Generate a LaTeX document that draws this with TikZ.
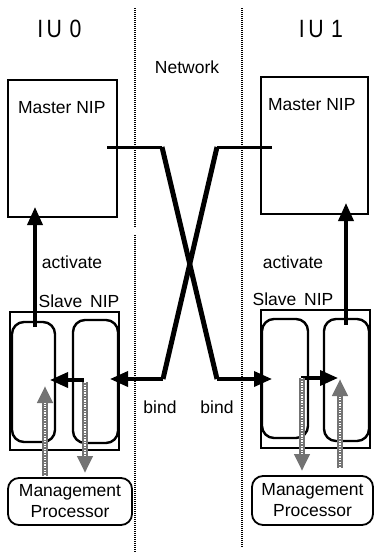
\documentclass[tikz,border=0pt]{standalone}
\usepackage{fontspec}
\setmainfont{Liberation Sans}
\usetikzlibrary{arrows.meta}
\begin{document}
\begin{tikzpicture}[x=1pt,y=-1pt,
  every node/.style={inner sep=0pt,outer sep=0pt},
  txt/.style={font=\fontsize{17.5}{21}\selectfont},
  bigtxt/.style={font=\fontsize{25}{28}\selectfont},
  plainbox/.style={draw,line width=2pt},
  innerbox/.style={draw,line width=2.4pt,rounded corners=12pt},
  mpbox/.style={draw,line width=1.8pt,rounded corners=11pt,align=center,font=\fontsize{17.5}{21}\selectfont},
  sep/.style={line width=1.8pt,dash pattern=on 1pt off 1pt},
  blk/.style={line width=3.6pt,-{Triangle[width=15pt,length=18pt]}},
  thin/.style={line width=3pt},
  thick/.style={line width=5pt,line join=round},
  grayarr/.style={line width=6.5pt,draw=black!55,-{Triangle[width=15pt,length=17pt]},
     postaction={draw=white,line width=1.4pt,dash pattern=on 1.3pt off 1.3pt,shorten >=17pt,-}}
]
\useasboundingbox (0,0) rectangle (374,555);
% separators
\coordinate (s1a) at (135,8); \coordinate (s1b) at (135,227);
\coordinate (s1c) at (135,235); \coordinate (s1d) at (135,553);
\coordinate (s2a) at (242,8); \coordinate (s2b) at (242,548);
\draw[sep] (s1a) -- (s1b);
\draw[sep] (s1c) -- (s1d);
\draw[sep] (s2a) -- (s2b);
% titles
\node[bigtxt,anchor=base,xscale=0.85,transform shape] (iu0) at (59.5,37) {I\hspace{4pt}U\hspace{9pt}0};
\node[bigtxt,anchor=base,xscale=0.85,transform shape] (iu1) at (321,37) {I\hspace{4pt}U\hspace{9pt}1};
\node[txt,anchor=base] (net) at (187,73) {Network};
% master boxes
\node[plainbox,minimum width=109pt,minimum height=137pt] (m0) at (62.5,148.5) {};
\node[plainbox,minimum width=107pt,minimum height=137pt] (m1) at (314.5,145.5) {};
\node[txt,anchor=base west] (m0t) at (18,113) {Master NIP};
\node[txt,anchor=base west] (m1t) at (268,110) {Master NIP};
% slave boxes
\node[plainbox,minimum width=109pt,minimum height=138pt] (s0) at (64.5,381) {};
\node[innerbox,minimum width=43pt,minimum height=120pt] (s0a) at (33.5,382) {};
\node[innerbox,minimum width=45pt,minimum height=123pt] (s0b) at (95.5,381.5) {};
\node[plainbox,minimum width=109pt,minimum height=138pt] (s1) at (315.5,379) {};
\node[innerbox,minimum width=46pt,minimum height=119pt] (s1a) at (285,378.5) {};
\node[innerbox,minimum width=45pt,minimum height=122pt] (s1b) at (346.5,380) {};
\node[txt,anchor=base] (s0t) at (79,307) {Slave\, NIP};
\node[txt,anchor=base] (s1t) at (293,305) {Slave\, NIP};
% labels
\node[txt,anchor=base] (act0) at (72,268) {activate};
\node[txt,anchor=base] (act1) at (293,268) {activate};
\node[txt,anchor=base] (b0) at (160,413) {bind};
\node[txt,anchor=base] (b1) at (217,413) {bind};
% management processors
\node[mpbox,minimum width=124pt,minimum height=47pt] (mp0) at (70,501.5) {Management\\Processor};
\node[mpbox,minimum width=121pt,minimum height=49pt] (mp1) at (312.5,500.5) {Management\\Processor};
% activate arrows
\coordinate (a0s) at (35,327); \coordinate (a0e) at (35,207);
\coordinate (a1s) at (346,325); \coordinate (a1e) at (346,203);
\draw[blk] (a0s) -- (a0e);
\draw[blk] (a1s) -- (a1e);
% network cross
\coordinate (n0a) at (107,147); \coordinate (n0b) at (162,147);
\coordinate (n0c) at (217,379); \coordinate (n0d) at (272,379);
\coordinate (n1a) at (272,147); \coordinate (n1b) at (217,147);
\coordinate (n1c) at (163,379); \coordinate (n1d) at (110,379);
\draw[thin] (n0a) -- (n0b);
\draw[thin] (n1a) -- (n1b);
\draw[thick] (n0b) -- (n0c);
\draw[thick] (n1b) -- (n1c);
\draw[blk] (n0c) -- (n0d);
\draw[blk] (n1c) -- (n1d);
% internal black arrows
\coordinate (i0s) at (84,380); \coordinate (i0e) at (50,380);
\coordinate (i1s) at (301,378); \coordinate (i1e) at (338,378);
\draw[blk] (i0s) -- (i0e);
\draw[blk] (i1s) -- (i1e);
% gray arrows
\coordinate (g0us) at (45,476); \coordinate (g0ue) at (45,386);
\coordinate (g0ds) at (85,382); \coordinate (g0de) at (85,473);
\coordinate (g1ds) at (302,378); \coordinate (g1de) at (302,471);
\coordinate (g1us) at (340,468); \coordinate (g1ue) at (340,379);
\draw[grayarr] (g0us) -- (g0ue);
\draw[grayarr] (g0ds) -- (g0de);
\draw[grayarr] (g1ds) -- (g1de);
\draw[grayarr] (g1us) -- (g1ue);
\end{tikzpicture}
\end{document}
